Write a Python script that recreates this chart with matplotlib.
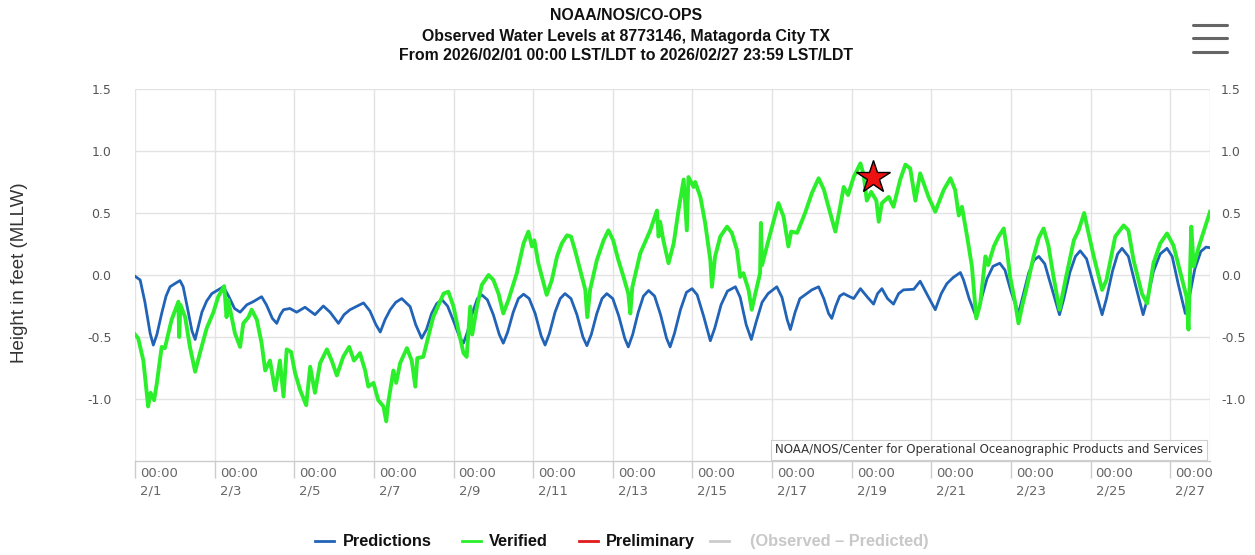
import matplotlib
matplotlib.use('Agg')
import matplotlib.pyplot as plt
from matplotlib.lines import Line2D
import matplotlib.transforms as mtransforms

# ---------------- data ----------------
title_lines = ["NOAA/NOS/CO-OPS",
               "Observed Water Levels at 8773146, Matagorda City TX",
               "From 2026/02/01 00:00 LST/LDT to 2026/02/27 23:59 LST/LDT"]
y_label = "Height in feet (MLLW)"
credit = "NOAA/NOS/Center for Operational Oceanographic Products and Services"

tick_days = [0, 2, 4, 6, 8, 10, 12, 14, 16, 18, 20, 22, 24, 26]
tick_dates = ["2/1", "2/3", "2/5", "2/7", "2/9", "2/11", "2/13", "2/15",
              "2/17", "2/19", "2/21", "2/23", "2/25", "2/27"]
ytick_vals = [1.5, 1.0, 0.5, 0.0, -0.5, -1.0]
ytick_labels = ["1.5", "1.0", "0.5", "0.0", "-0.5", "-1.0"]

legend_labels = ["Predictions", "Verified", "Preliminary", "(Observed \u2013 Predicted)"]

# Predictions (days since 2/1 00:00, feet)
pred_day = [0.00, 0.13, 0.25, 0.38, 0.46, 0.55, 0.67, 0.78, 0.88, 1.00, 1.13, 1.21, 1.32, 1.43, 1.51,
            1.58, 1.68, 1.80, 1.93, 2.09, 2.22, 2.35, 2.50, 2.64, 2.81, 2.97, 3.18, 3.30, 3.45, 3.56,
            3.65, 3.73, 3.89, 4.06, 4.27, 4.52, 4.73, 4.90, 5.11, 5.25, 5.40, 5.74, 5.90, 6.05, 6.16,
            6.28, 6.41, 6.55, 6.70, 6.91, 7.05, 7.20, 7.32, 7.45, 7.58, 7.71, 7.85, 8.00, 8.15, 8.25,
            8.35, 8.48, 8.60, 8.71, 8.85, 9.00, 9.15, 9.25, 9.36, 9.50, 9.63, 9.76, 9.90, 10.05, 10.20,
            10.30, 10.41, 10.55, 10.68, 10.80, 10.95, 11.10, 11.25, 11.35, 11.46, 11.60, 11.73, 11.85,
            12.00, 12.15, 12.30, 12.39, 12.50, 12.64, 12.77, 12.90, 13.05, 13.20, 13.35, 13.44, 13.55,
            13.70, 13.85, 13.99, 14.12, 14.28, 14.45, 14.56, 14.72, 14.88, 15.08, 15.20, 15.35, 15.48,
            15.60, 15.75, 15.90, 16.12, 16.25, 16.38, 16.46, 16.58, 16.70, 16.83, 17.00, 17.17, 17.30,
            17.42, 17.50, 17.60, 17.70, 17.80, 17.92, 18.05, 18.22, 18.40, 18.55, 18.65, 18.76, 18.90,
            19.05, 19.18, 19.30, 19.56, 19.72, 19.90, 20.10, 20.25, 20.39, 20.55, 20.73, 20.81, 20.95,
            21.13, 21.25, 21.40, 21.55, 21.72, 21.85, 22.00, 22.19, 22.30, 22.45, 22.58, 22.70, 22.85,
            23.02, 23.22, 23.33, 23.48, 23.62, 23.74, 23.90, 24.08, 24.29, 24.40, 24.55, 24.68, 24.79,
            24.95, 25.12, 25.32, 25.43, 25.58, 25.75, 25.92, 26.05, 26.20, 26.38, 26.48, 26.62, 26.77,
            26.90, 27.00]
pred_ft = [-0.01, -0.04, -0.22, -0.47, -0.565, -0.48, -0.31, -0.17, -0.095, -0.07, -0.045, -0.095, -0.27, -0.45, -0.52,
           -0.43, -0.30, -0.21, -0.15, -0.12, -0.095, -0.17, -0.27, -0.30, -0.24, -0.215, -0.175, -0.24, -0.35, -0.39,
           -0.32, -0.28, -0.27, -0.30, -0.26, -0.32, -0.25, -0.30, -0.39, -0.32, -0.28, -0.225, -0.29, -0.40, -0.46,
           -0.36, -0.28, -0.22, -0.19, -0.255, -0.40, -0.51, -0.44, -0.31, -0.23, -0.20, -0.25, -0.37, -0.50, -0.55,
           -0.46, -0.30, -0.19, -0.16, -0.20, -0.32, -0.48, -0.55, -0.46, -0.30, -0.19, -0.155, -0.19, -0.31, -0.49,
           -0.565, -0.47, -0.30, -0.19, -0.15, -0.19, -0.32, -0.50, -0.57, -0.48, -0.31, -0.19, -0.15,
           -0.19, -0.33, -0.51, -0.58, -0.48, -0.30, -0.17, -0.125, -0.17, -0.32, -0.51, -0.58, -0.47,
           -0.28, -0.14, -0.11, -0.16, -0.33, -0.53, -0.43, -0.24, -0.13, -0.095, -0.18, -0.40, -0.52,
           -0.38, -0.22, -0.15, -0.095, -0.18, -0.36, -0.44, -0.30, -0.19, -0.16, -0.12, -0.095, -0.19,
           -0.31, -0.35, -0.25, -0.17, -0.15, -0.17, -0.19, -0.11, -0.18, -0.235, -0.15, -0.11, -0.19,
           -0.235, -0.15, -0.12, -0.115, -0.05, -0.16, -0.28, -0.15, -0.07, -0.02, 0.02, -0.04, -0.19,
           -0.34, -0.20, -0.03, 0.07, 0.095, 0.04, -0.13, -0.31, -0.17, 0.02, 0.12, 0.15, 0.09,
           -0.10, -0.32, -0.19, 0.02, 0.15, 0.195, 0.13, -0.08, -0.32, -0.19, 0.03, 0.17, 0.215,
           0.15, -0.07, -0.32, -0.19, 0.03, 0.17, 0.215, 0.15, -0.07, -0.31, -0.18, 0.05, 0.19,
           0.225, 0.22]

# Verified (days since 2/1 00:00, feet)
ver_day = [0.00, 0.08, 0.21, 0.33, 0.39, 0.48, 0.55, 0.67, 0.75, 0.84, 0.92, 1.09, 1.11, 1.14, 1.26,
           1.38, 1.51, 1.63, 1.80, 1.97, 2.09, 2.24, 2.30, 2.34, 2.39, 2.51, 2.64, 2.72, 2.85, 2.93,
           3.06, 3.18, 3.27, 3.39, 3.52, 3.64, 3.73, 3.81, 3.92, 4.02, 4.15, 4.30, 4.40, 4.52, 4.65,
           4.82, 4.94, 5.07, 5.23, 5.38, 5.50, 5.65, 5.78, 5.86, 5.99, 6.11, 6.24, 6.31, 6.36, 6.49,
           6.56, 6.66, 6.83, 6.95, 7.04, 7.09, 7.24, 7.49, 7.75, 7.87, 8.00, 8.12, 8.25, 8.33, 8.42,
           8.47, 8.59, 8.71, 8.88, 9.00, 9.13, 9.25, 9.38, 9.59, 9.76, 9.88, 9.97, 10.03, 10.13, 10.26,
           10.34, 10.47, 10.60, 10.72, 10.85, 10.95, 11.06, 11.18, 11.31, 11.36, 11.43, 11.60, 11.77, 11.89,
           12.01, 12.14, 12.27, 12.39, 12.44, 12.49, 12.69, 12.94, 13.11, 13.15, 13.19, 13.27, 13.40, 13.53,
           13.65, 13.78, 13.86, 13.90, 14.03, 14.07, 14.20, 14.32, 14.45, 14.49, 14.57, 14.70, 14.87, 14.99,
           15.12, 15.20, 15.28, 15.41, 15.49, 15.58, 15.70, 15.72, 15.75, 15.91, 16.16, 16.29, 16.41, 16.48,
           16.63, 16.83, 17.00, 17.17, 17.30, 17.46, 17.59, 17.71, 17.80, 17.91, 18.05, 18.22, 18.30, 18.38,
           18.49, 18.62, 18.68, 18.76, 18.93, 19.05, 19.22, 19.35, 19.47, 19.60, 19.72, 19.93, 20.10, 20.31,
           20.48, 20.60, 20.69, 20.77, 20.90, 21.02, 21.13, 21.23, 21.36, 21.43, 21.57, 21.69, 21.82, 21.90,
           21.98, 22.11, 22.19, 22.29, 22.40, 22.57, 22.70, 22.82, 22.94, 23.07, 23.22, 23.37, 23.58, 23.70,
           23.84, 23.94, 24.08, 24.29, 24.40, 24.62, 24.83, 24.95, 25.08, 25.29, 25.42, 25.58, 25.75, 25.92,
           26.08, 26.26, 26.41, 26.46, 26.53, 26.59, 26.72, 26.88, 27.00]
ver_ft = [-0.48, -0.51, -0.69, -1.06, -0.95, -1.01, -0.87, -0.58, -0.59, -0.47, -0.36, -0.215, -0.50, -0.24, -0.34,
          -0.58, -0.78, -0.63, -0.43, -0.30, -0.175, -0.09, -0.34, -0.20, -0.28, -0.47, -0.58, -0.39, -0.34, -0.28,
          -0.36, -0.55, -0.77, -0.69, -0.93, -0.69, -0.98, -0.60, -0.62, -0.79, -0.93, -1.05, -0.74, -0.95, -0.71,
          -0.60, -0.69, -0.81, -0.66, -0.58, -0.69, -0.63, -0.77, -0.90, -0.87, -1.01, -1.06, -1.18, -1.03, -0.77,
          -0.87, -0.71, -0.59, -0.69, -0.90, -0.67, -0.66, -0.34, -0.15, -0.135, -0.255, -0.44, -0.63, -0.66, -0.255,
          -0.48, -0.255, -0.08, 0.00, -0.04, -0.15, -0.31, -0.20, 0.015, 0.255, 0.35, 0.23, 0.28, 0.095, -0.065,
          -0.16, -0.04, 0.15, 0.255, 0.32, 0.31, 0.19, 0.04, -0.12, -0.34, -0.12, 0.12, 0.28, 0.36,
          0.28, 0.12, -0.015, -0.15, -0.31, -0.10, 0.175, 0.36, 0.52, 0.31, 0.43, 0.28, 0.095, 0.255,
          0.52, 0.77, 0.36, 0.79, 0.71, 0.75, 0.63, 0.42, 0.12, -0.095, 0.15, 0.31, 0.39, 0.34,
          0.20, -0.015, 0.015, -0.12, -0.28, -0.15, 0.015, 0.42, 0.08, 0.28, 0.58, 0.47, 0.23, 0.35,
          0.34, 0.50, 0.66, 0.78, 0.69, 0.50, 0.35, 0.55, 0.71, 0.645, 0.79, 0.90, 0.81, 0.60,
          0.67, 0.60, 0.43, 0.58, 0.63, 0.55, 0.77, 0.89, 0.86, 0.60, 0.82, 0.63, 0.51, 0.685,
          0.78, 0.685, 0.48, 0.55, 0.31, 0.07, -0.35, -0.23, 0.15, 0.08, 0.23, 0.31, 0.375, 0.20,
          -0.015, -0.23, -0.39, -0.24, -0.095, 0.15, 0.30, 0.375, 0.24, -0.015, -0.28, -0.04, 0.28, 0.36,
          0.50, 0.35, 0.15, -0.12, -0.04, 0.31, 0.40, 0.36, 0.12, -0.15, -0.23, 0.095, 0.255, 0.335,
          0.24, 0.015, -0.175, -0.44, 0.39, 0.07, 0.23, 0.39, 0.51]

star_day = [18.54]
star_ft = [0.79]

# ---------------- figure ----------------
W, H = 1255, 555
fig = plt.figure(figsize=(W / 100, H / 100), dpi=100)
fig.patch.set_facecolor('white')

left_px, right_px, top_px, bot_px = 135, 1210, 89, 461
ax = fig.add_axes([left_px / W, 1 - bot_px / H, (right_px - left_px) / W, (bot_px - top_px) / H])
ax.set_xlim(0, 27)
ax.set_ylim(-1.5, 1.5)

grid_c = '#e3e3e3'
for s in ['top', 'left', 'right']:
    ax.spines[s].set_visible(False)
ax.spines['bottom'].set_color('#cccccc')
ax.spines['bottom'].set_linewidth(1.0)

for v in ytick_vals:
    ax.axhline(v, color=grid_c, lw=1.0, zorder=0)
for d in tick_days:
    ax.axvline(d, color=grid_c, lw=1.0, zorder=0)
ax.axvline(27, color=grid_c, lw=1.0, zorder=0)

ax.plot(pred_day, pred_ft, color='#2163b6', lw=2.0, zorder=3, solid_joinstyle='round')
ax.plot(ver_day, ver_ft, color='#2bef2b', lw=2.8, zorder=4, solid_joinstyle='round')
ax.plot(star_day, star_ft, marker='*', markersize=25, color='#ee1111',
        markeredgecolor='black', markeredgewidth=1.0, linestyle='none', zorder=6)

# x ticks
ax.set_xticks(tick_days)
ax.set_xticklabels(["00:00\n" + t for t in tick_dates], ha='left', linespacing=1.45,
                   fontsize=9.5, color='#666666', family='DejaVu Sans')
ax.tick_params(axis='x', length=12, width=1, color='#cccccc', pad=-8)
offset = mtransforms.ScaledTranslation(5 / 100, 0, fig.dpi_scale_trans)
for lab in ax.get_xticklabels():
    lab.set_transform(lab.get_transform() + offset)

# y ticks
ax.set_yticks(ytick_vals)
ax.set_yticklabels(ytick_labels, fontsize=9, color='#555555')
ax.tick_params(axis='y', length=0, pad=17)
ax2 = ax.twinx()
ax2.set_ylim(-1.5, 1.5)
ax2.set_yticks(ytick_vals)
ax2.set_yticklabels(ytick_labels, fontsize=9, color='#555555')
ax2.tick_params(axis='y', length=0, pad=8)
for s in ax2.spines.values():
    s.set_visible(False)

fig.text(20 / W, 1 - 273 / H, y_label, rotation=90, ha='center', va='center',
         fontsize=13.5, color='#333333', family='Liberation Sans')

# title
for i, (line, yy) in enumerate(zip(title_lines, [16, 36, 56])):
    fig.text(626 / W, 1 - yy / H, line, ha='center', va='center', fontsize=11.4,
             fontweight='bold', color='#111111', family='Liberation Sans')

# hamburger icon
for yy in [25, 38, 52]:
    fig.add_artist(Line2D([1193 / W, 1227 / W], [1 - yy / H] * 2, color='#666666', lw=2.2,
                          solid_capstyle='round'))

# credit
fig.text(1203 / W, 1 - 450 / H, credit, ha='right', va='center', fontsize=8.5, color='#333333',
         family='DejaVu Sans',
         bbox=dict(boxstyle='square,pad=0.3', fc='white', ec='#cfcfcf', lw=0.8), zorder=10)

# legend
leg_colors = ['#2163b6', '#2bef2b', '#e01b1b', '#cccccc']
leg_line_x = [315, 462, 579, 710]
leg_text_x = [343, 489, 606, 750]
leg_text_c = ['#111111', '#111111', '#111111', '#c8c8c8']
ly = 1 - 541 / H
lb = 1 - 546 / H
for c, lx, tx, tc, lab in zip(leg_colors, leg_line_x, leg_text_x, leg_text_c, legend_labels):
    fig.add_artist(Line2D([lx / W, (lx + 19) / W], [ly, ly], color=c, lw=2))
    fig.text(tx / W, lb, lab, ha='left', va='baseline', fontsize=11.8, fontweight='bold',
             color=tc, family='Liberation Sans')

fig.savefig('out.png', dpi=100, facecolor='white')
